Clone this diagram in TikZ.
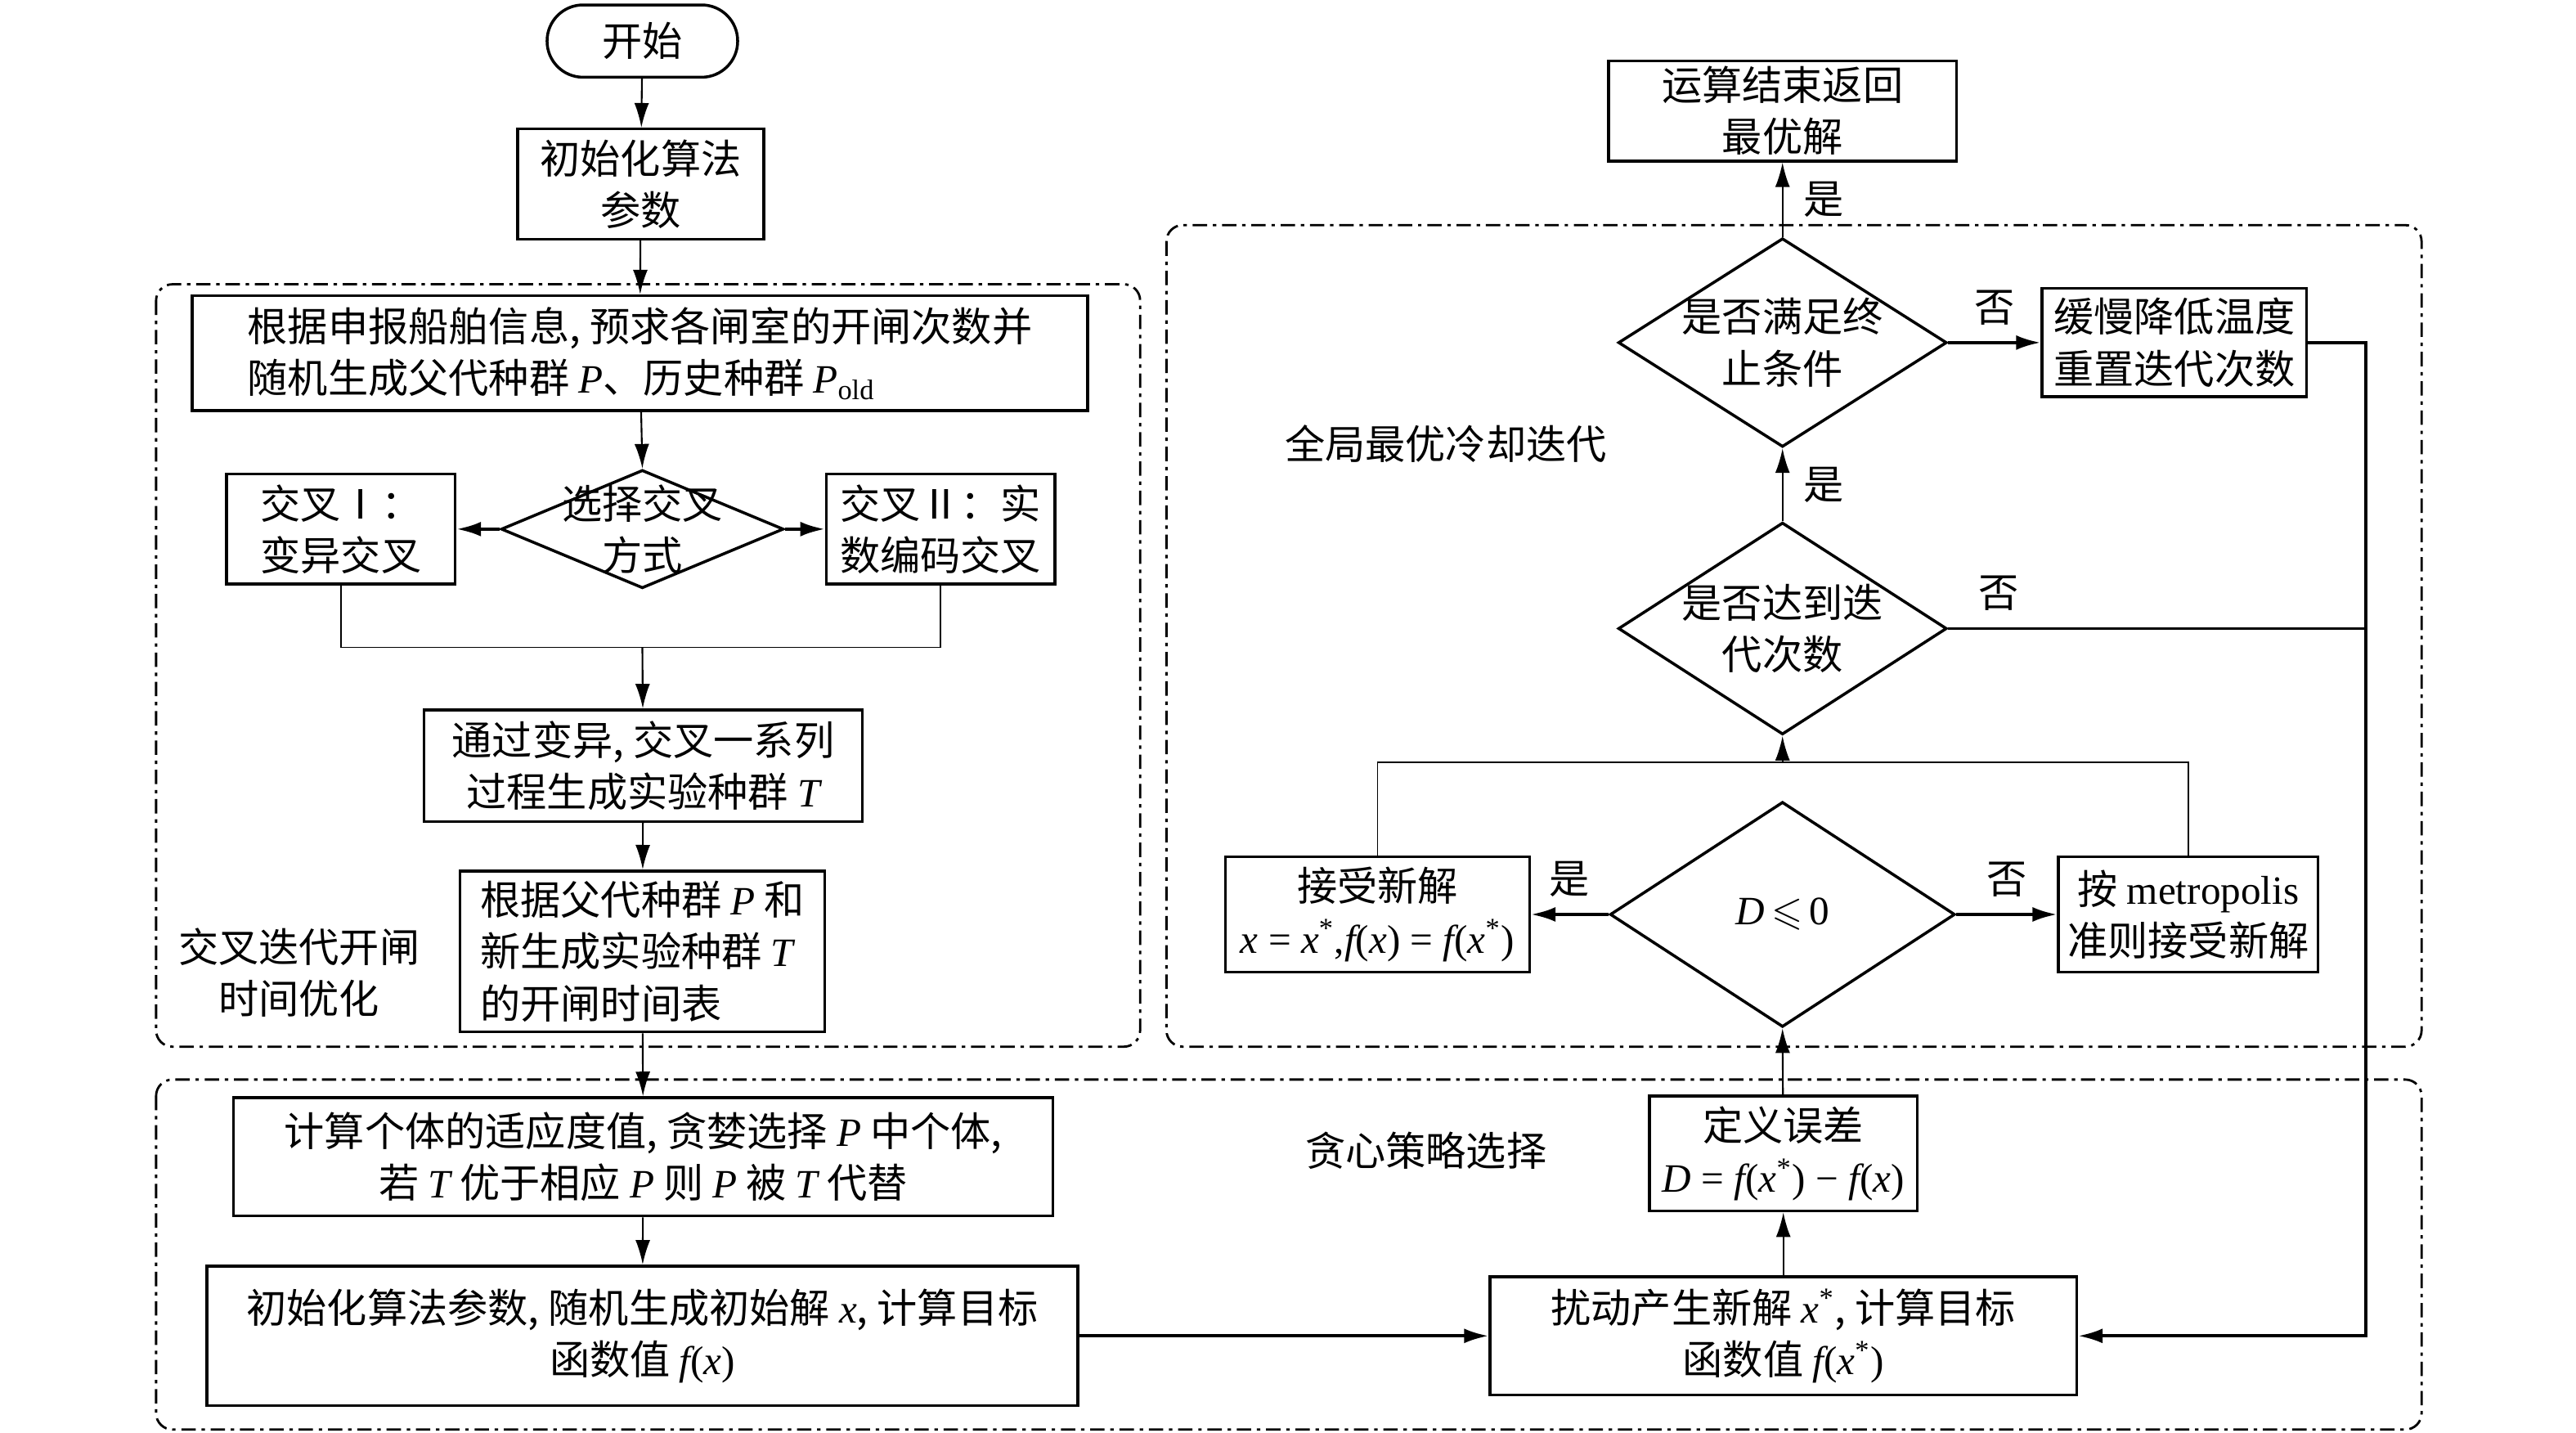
\documentclass[tikz,border=0pt]{standalone}
\usepackage{amssymb}
\usepackage{fontspec}
\setmainfont{Liberation Serif}
\newfontfamily\cjk{Noto Sans CJK SC}
\usetikzlibrary{arrows.meta, shapes.geometric, positioning}

\newdimen\px \px=0.2009mm
\newcommand\vi[1]{{\rmfamily\itshape #1}}
\newcommand\vr[1]{{\rmfamily #1}}

\begin{document}
\begin{tikzpicture}[x=0.2009mm, y=-0.2009mm,
	box/.style={draw, line width=1pt, inner sep=1pt, align=center,
		font=\cjk\fontsize{14pt}{18pt}\selectfont},
	lbox/.style={box, align=left},
	dia/.style={draw, diamond, line width=1pt, inner sep=0pt},
	txt/.style={inner sep=0pt, align=center, font=\cjk\fontsize{14pt}{18pt}\selectfont},
	frame/.style={draw, line width=0.8pt, rounded corners=2mm,
		dash pattern=on 5pt off 2pt on 1.2pt off 2pt},
	arr/.style={-{Latex[length=3mm,width=1.8mm]}, line width=0.6pt},
	arrT/.style={arr, line width=1.1pt}]
	\useasboundingbox (0,0) rectangle (1568,872);
	% group frames
	\draw[frame] (95,173) rectangle (694,637);
	\draw[frame] (95,657) rectangle (1474,870);
	\draw[frame] (710,137) rectangle (1474,637);
	\node[txt] (lblA) at (182,592) {交叉迭代开闸\\时间优化};
	\node[txt] (lblB) at (868,700) {贪心策略选择};
	\node[txt] (lblC) at (880,270) {全局最优冷却迭代};
	% left column
	\node[box, rounded corners=4.4mm, minimum width=116\px, minimum height=44\px] (start) at (391,25) {开始};
	\node[box, minimum width=150\px, minimum height=67\px] (init) at (390,112) {初始化算法\\参数};
	\node[lbox, minimum width=545\px, minimum height=70\px] (gen) at (389.5,215)
		{根据申报船舶信息, 预求各闸室的开闸次数并\\随机生成父代种群 \vi{P}、历史种群 \vi{P}\vr{\textsubscript{old}}};
	\node[dia, minimum width=172\px, minimum height=72\px] (seldia) at (391,322) {};
	\node[txt] (seltxt) at (seldia) {选择交叉\\方式};
	\node[box, minimum width=139\px, minimum height=67\px] (crossI) at (207.5,322) {交叉Ⅰ：\\变异交叉};
	\node[box, minimum width=139\px, minimum height=67\px] (crossII) at (572.5,322) {交叉Ⅱ：实\\数编码交叉};
	\coordinate (mrg) at (391,394);
	\node[box, minimum width=267\px, minimum height=68\px] (trial) at (391.5,466)
		{通过变异, 交叉一系列\\过程生成实验种群 \vi{T}};
	\node[lbox, minimum width=222\px, minimum height=98\px] (table) at (391,579)
		{根据父代种群 \vi{P} 和\\新生成实验种群 \vi{T}\\的开闸时间表};
	\node[box, minimum width=499\px, minimum height=72\px] (fit) at (391.5,704)
		{计算个体的适应度值, 贪婪选择 \vi{P} 中个体,\\若 \vi{T} 优于相应 \vi{P} 则 \vi{P} 被 \vi{T} 代替};
	\node[box, minimum width=530\px, minimum height=85\px] (sainit) at (391,813)
		{初始化算法参数, 随机生成初始解 \vi{x}, 计算目标\\函数值 \vi{f}\vr{(}\vi{x}\vr{)}};
	% right column
	\node[box, minimum width=357\px, minimum height=72\px] (perturb) at (1085.5,813)
		{扰动产生新解 \vi{x}\vr{\textsuperscript{*}}, 计算目标\\函数值 \vi{f}\vr{(}\vi{x}\vr{\textsuperscript{*})}};
	\node[box, minimum width=163\px, minimum height=70\px] (err) at (1085.5,702)
		{定义误差\\\vi{D}\vr{ = }\vi{f}\vr{(}\vi{x}\vr{\textsuperscript{*}) − }\vi{f}\vr{(}\vi{x}\vr{)}};
	\node[dia, minimum width=210\px, minimum height=137\px] (ddia) at (1085,556.5) {};
	\node[txt] (dtxt) at (ddia) {\vi{D}\,$\leqslant$\,\vr{0}};
	\node[box, minimum width=185\px, minimum height=70\px] (accept) at (838.5,556.5)
		{接受新解\\\vi{x}\vr{ = }\vi{x}\vr{\textsuperscript{*},}\vi{f}\vr{(}\vi{x}\vr{) = }\vi{f}\vr{(}\vi{x}\vr{\textsuperscript{*})}};
	\node[box, minimum width=158\px, minimum height=70\px] (metro) at (1332,556.5)
		{按 \vr{metropolis}\\准则接受新解};
	\coordinate (top) at (1085,464);
	\node[dia, minimum width=200\px, minimum height=129\px] (iterdia) at (1085,382.5) {};
	\node[txt] (itertxt) at (iterdia) {是否达到迭\\代次数};
	\node[dia, minimum width=200\px, minimum height=127\px] (stopdia) at (1085,208.5) {};
	\node[txt] (stoptxt) at (stopdia) {是否满足终\\止条件};
	\node[box, minimum width=161\px, minimum height=66\px] (cool) at (1323.5,208.5)
		{缓慢降低温度\\重置迭代次数};
	\node[box, minimum width=212\px, minimum height=61\px] (end) at (1085,67.5)
		{运算结束返回\\最优解};
	\coordinate (rm) at (1440,382.5);
	\coordinate (rb) at (1440,813);
	% connectors
	\draw[arr] (start) -- (init);
	\draw[arr] (init) -- (gen);
	\draw[arr] (gen) -- (seldia.north);
	\draw[arrT] (seldia.west) -- (crossI.east);
	\draw[arrT] (seldia.east) -- (crossII.west);
	\draw (crossI.south) |- (mrg) -| (crossII.south);
	\draw[arr] (mrg) -- (trial);
	\draw[arr] (trial) -- (table);
	\draw[arr] (table) -- (fit);
	\draw[arr] (fit) -- (sainit);
	\draw[arrT] (sainit.east) -- (perturb.west);
	\draw[arr] (perturb) -- (err);
	\draw[arr] (err) -- (ddia.south);
	\draw[arrT] (ddia.west) -- node[txt, above=2mm] (yesD) {是} (accept.east);
	\draw[arrT] (ddia.east) -- node[txt, above=2mm] (noD) {否} (metro.west);
	\draw (accept.north) |- (top) -| (metro.north);
	\draw[arr] (top) -- (iterdia.south);
	\draw[arr] (iterdia.north) -- node[txt, right=2.5mm] (yesI) {是} (stopdia.south);
	\draw[arr] (stopdia.north) -- node[txt, right=2.5mm] (yesS) {是} (end.south);
	\draw[arrT] (stopdia.east) -- node[txt, above=2mm] (noS) {否} (cool.west);
	\draw[line width=1.1pt] (iterdia.east) -- node[txt, above=2mm, pos=0.12] (noI) {否} (rm);
	\draw[arrT] (cool.east) -| (rb) -- (perturb.east);
\end{tikzpicture}
\end{document}
